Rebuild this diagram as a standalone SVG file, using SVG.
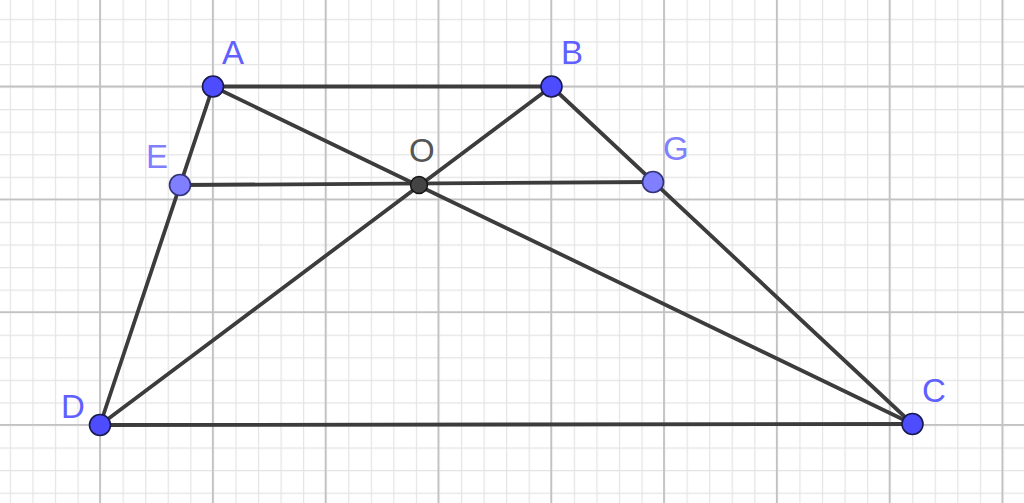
<svg xmlns="http://www.w3.org/2000/svg" width="1024" height="503" viewBox="0 0 1024 503">
<defs>
<style>
.minor{stroke:#e4e4e4;stroke-width:1.2}
.major{stroke:#c2c2c2;stroke-width:1.8}
.seg{stroke:#3c3c3c;stroke-width:3.8;stroke-linecap:round}
.pt{fill:#4d4dff;stroke:#1a1a4d;stroke-width:1.6}
.pt2{fill:#7f7fff;stroke:#33337a;stroke-width:1.6}
.pto{fill:#444;stroke:#111;stroke-width:1.4}
.lbl{font-family:"Liberation Sans",Arial,sans-serif;font-size:33px;fill:#6060ff}
.lbl2{font-family:"Liberation Sans",Arial,sans-serif;font-size:33px;fill:#8080ff}
.lblo{font-family:"Liberation Sans",Arial,sans-serif;font-size:33px;fill:#555}
</style>
<pattern id="minorGrid" x="9.76" y="18.82" width="22.56" height="22.56" patternUnits="userSpaceOnUse">
<path d="M0.6 0 V22.56 M0 0.6 H22.56" class="minor" fill="none"/>
</pattern>
</defs>
<rect width="1024" height="503" fill="#ffffff"/>
<g id="grid">
<rect width="1024" height="503" fill="url(#minorGrid)"/>
<path class="major" fill="none" d="M100 0V503 M212.8 0V503 M325.6 0V503 M438.4 0V503 M551.2 0V503 M664 0V503 M776.8 0V503 M889.6 0V503 M1002.4 0V503 M0 86.5H1024 M0 199.3H1024 M0 312.1H1024 M0 424.9H1024"/>
</g>
<g id="connectors">
<line class="seg" x1="213" y1="86.5" x2="551.5" y2="86.5"/>
<line class="seg" x1="213" y1="86.5" x2="100" y2="425"/>
<line class="seg" x1="551.5" y1="86.5" x2="912.5" y2="424"/>
<line class="seg" x1="100" y1="425" x2="912.5" y2="424"/>
<line class="seg" x1="213" y1="86.5" x2="912.5" y2="424"/>
<line class="seg" x1="551.5" y1="86.5" x2="100" y2="425"/>
<line class="seg" x1="180" y1="185" x2="653" y2="182"/>
</g>
<g id="node-O"><circle class="pto" cx="419" cy="185" r="8.5"/><text class="lblo" x="409" y="162">O</text></g>
<g id="node-A"><circle class="pt" cx="213" cy="86.5" r="10.5"/><text class="lbl" x="222" y="64">A</text></g>
<g id="node-B"><circle class="pt" cx="551.5" cy="86.5" r="10.5"/><text class="lbl" x="561" y="64">B</text></g>
<g id="node-C"><circle class="pt" cx="912.5" cy="424" r="10.5"/><text class="lbl" x="922" y="402">C</text></g>
<g id="node-D"><circle class="pt" cx="100" cy="425" r="10.5"/><text class="lbl" x="61" y="418">D</text></g>
<g id="node-E"><circle class="pt2" cx="180" cy="185" r="10.5"/><text class="lbl2" x="146" y="168">E</text></g>
<g id="node-G"><circle class="pt2" cx="653" cy="182" r="10.5"/><text class="lbl2" x="663" y="160">G</text></g>
</svg>
